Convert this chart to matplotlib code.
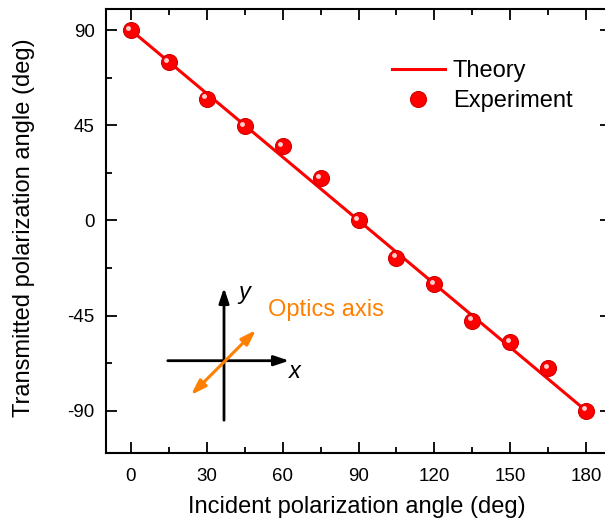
import numpy as np
import matplotlib
matplotlib.use("Agg")
import matplotlib.pyplot as plt
from matplotlib.ticker import MultipleLocator
from matplotlib import transforms

plt.rcParams['font.family'] = ['Liberation Sans', 'DejaVu Sans']
plt.rcParams['axes.unicode_minus'] = False

# data
theory_x = [0, 180]
theory_y = [90, -90]
exp_x = [0, 15, 30, 45, 60, 75, 90, 105, 120, 135, 150, 165, 180]
exp_y = [90, 74.7, 57.5, 44.6, 35.0, 20.0, 0.0, -17.6, -30.2, -47.5, -57.6, -70.0, -90.0]

W, H = 605, 522
fig = plt.figure(figsize=(W / 100, H / 100), dpi=100)
ax = fig.add_axes([105.7 / W, (H - 453) / H, (611.3 - 105.7) / W, (453 - 9) / H])

red = '#ff0000'
ax.plot(theory_x, theory_y, color=red, lw=2.2, label='Theory', zorder=2)
ax.plot(exp_x, exp_y, 'o', color=red, mec='#d00000', mew=0.8, ms=11.5,
        label='Experiment', zorder=3)
# little highlight on the balls
hl = transforms.offset_copy(ax.transData, fig=fig, x=-2.5, y=2.5, units='dots')
ax.plot(exp_x, exp_y, 'o', color='#ffd0d0', mec='none', ms=3.5, transform=hl, zorder=4)

ax.set_xlim(-10, 190)
ax.set_ylim(-110, 100)
ax.xaxis.set_major_locator(MultipleLocator(30))
ax.xaxis.set_minor_locator(MultipleLocator(15))
ax.yaxis.set_major_locator(MultipleLocator(45))
ax.yaxis.set_minor_locator(MultipleLocator(22.5))
ax.tick_params(which='both', direction='in', top=True, right=True, width=1.3,
               labelsize=13.5, pad=8)
ax.tick_params(axis='x', which='both', pad=11)
ax.tick_params(which='major', length=8)
ax.tick_params(which='minor', length=4.5)
for s in ax.spines.values():
    s.set_linewidth(1.5)

ax.set_xlabel('Incident polarization angle (deg)', fontsize=17)
ax.xaxis.set_label_coords(0.497, -0.097)
ax.set_ylabel('Transmitted polarization angle (deg)', fontsize=17)
ax.yaxis.set_label_coords(-0.14, 0.508)

leg = ax.legend(loc='upper left', bbox_to_anchor=(0.524, 0.933), frameon=False,
                fontsize=17, handlelength=2.25, handletextpad=0.33, labelspacing=0.36)

# inset sketch of the axes (image pixel coords -> figure fraction)
def fp(x, y):
    return (x / W, (H - y) / H)

ax.annotate('', xy=fp(292, 360.7), xytext=fp(165, 360.7), xycoords='figure fraction',
            textcoords='figure fraction',
            arrowprops=dict(arrowstyle='-|>,head_length=0.9,head_width=0.3', color='black', lw=2))
ax.annotate('', xy=fp(224, 285), xytext=fp(224, 423), xycoords='figure fraction',
            textcoords='figure fraction',
            arrowprops=dict(arrowstyle='-|>,head_length=0.9,head_width=0.3', color='black', lw=2))
orange = '#ff8000'
ax.annotate('', xy=fp(258, 328), xytext=fp(189, 397), xycoords='figure fraction',
            textcoords='figure fraction',
            arrowprops=dict(arrowstyle='<|-|>,head_length=0.9,head_width=0.3', color=orange, lw=2.2))
fig.text(*fp(244, 292), 'y', fontsize=17, style='italic', ha='center', va='center')
fig.text(*fp(295, 371), 'x', fontsize=17, style='italic', ha='center', va='center')
fig.text(*fp(268, 310), 'Optics axis', fontsize=17, color=orange, ha='left', va='center')

fig.savefig('out.png', dpi=100)
